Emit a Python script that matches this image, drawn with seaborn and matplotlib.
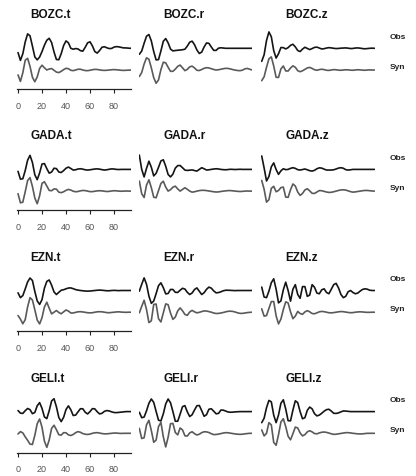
import numpy as np
import matplotlib
matplotlib.use("Agg")
import matplotlib.pyplot as plt
import matplotlib.transforms as mtransforms
import seaborn as sns

# time axis (s), one sample every 2 s
time = np.arange(0, 95, 2)

stations = ["BOZC", "GADA", "EZN", "GELI"]
comps = ["t", "r", "z"]
ticks = [0, 20, 40, 60, 80]

# normalised waveforms (obs / syn)
bozc_t_obs = [-0.33, -0.93, -0.42, 0.49, 1.11, 0.96, 0.17, -0.66, -0.89, -0.67, -0.25, 0.24,
              0.62, 0.77, 0.44, -0.28, -0.86, -0.88, -0.41, 0.21, 0.57, 0.42, 0.00, -0.07,
              -0.02, -0.05, -0.18, -0.22, 0.08, 0.42, 0.50, 0.18, -0.25, -0.37, -0.17, 0.08,
              0.12, 0.04, -0.02, -0.01, 0.09, 0.13, 0.11, 0.07, 0.03, 0.03, 0.01, 0.00]
bozc_t_syn = [-0.38, -0.88, -0.21, 0.75, 0.90, 0.28, -0.56, -0.90, -0.53, 0.12, 0.37, 0.17,
              0.00, 0.08, 0.11, -0.02, -0.16, -0.20, -0.10, 0.03, 0.13, 0.10, -0.02, -0.05,
              0.00, 0.06, 0.06, 0.00, -0.04, -0.05, -0.02, 0.02, 0.05, 0.04, 0.01, -0.02,
              -0.03, -0.02, 0.00, 0.02, 0.03, 0.02, 0.00, -0.02, -0.03, -0.02, -0.01, 0.00]
bozc_r_obs = [-0.46, -0.21, 0.39, 0.93, 1.06, 0.57, -0.25, -0.89, -0.87, -0.20, 0.54, 0.75,
              0.42, -0.06, -0.20, -0.17, -0.15, -0.13, -0.11, -0.07, 0.17, 0.47, 0.55, 0.28,
              -0.13, -0.40, -0.29, 0.10, 0.41, 0.38, 0.10, -0.16, -0.16, 0.01, 0.04, 0.02,
              0.00, 0.00, 0.00, 0.00, 0.00, 0.00, 0.00, 0.00, 0.00, 0.00, 0.00, 0.00]
bozc_r_syn = [-0.50, -0.19, 0.46, 0.94, 0.83, 0.17, -0.59, -1.02, -0.76, 0.03, 0.60, 0.55,
              0.21, -0.10, -0.10, 0.07, 0.28, 0.38, 0.17, -0.05, 0.05, 0.24, 0.30, 0.16,
              -0.02, -0.04, 0.04, 0.13, 0.18, 0.16, 0.10, 0.04, 0.00, 0.02, 0.06, 0.10,
              0.13, 0.12, 0.08, 0.03, -0.01, -0.04, -0.05, -0.01, 0.09, 0.12, 0.06, 0.00]
bozc_z_obs = [-1.00, -0.50, 0.60, 1.26, 0.89, -0.18, -0.75, -0.42, 0.06, 0.05, -0.05, 0.05,
              0.23, 0.31, 0.11, -0.17, -0.25, -0.06, 0.08, -0.01, -0.10, -0.02, 0.07, 0.09,
              0.02, -0.05, -0.03, 0.02, 0.05, 0.03, 0.00, -0.02, -0.01, 0.01, 0.02, 0.03,
              0.01, -0.02, -0.01, 0.02, 0.03, 0.01, -0.02, -0.04, -0.02, 0.00, 0.01, 0.00]
bozc_z_syn = [-0.82, -0.52, 0.21, 0.86, 1.01, 0.31, -0.56, -0.57, 0.08, 0.31, -0.07, -0.08,
              0.15, 0.32, 0.21, -0.05, -0.13, -0.06, 0.05, 0.16, 0.20, 0.12, 0.02, -0.02,
              0.03, 0.06, 0.03, -0.02, -0.03, 0.00, 0.03, 0.02, -0.01, -0.02, 0.00, 0.02,
              0.01, -0.01, -0.02, 0.00, 0.02, 0.01, -0.01, -0.02, 0.00, 0.01, 0.00, 0.00]

gada_t_obs = [-0.15, -0.75, -0.72, -0.09, 0.71, 1.08, 0.53, -0.41, -0.79, -0.27, 0.41, 0.45,
              0.06, -0.29, -0.20, 0.09, 0.06, -0.20, -0.24, -0.09, 0.09, 0.18, 0.07, -0.05,
              -0.03, 0.03, 0.05, 0.02, -0.03, -0.05, -0.03, 0.00, 0.03, 0.04, 0.02, -0.02,
              -0.05, -0.03, 0.01, 0.04, 0.03, 0.00, -0.01, 0.00, 0.00, 0.00, 0.00, 0.00]
gada_t_syn = [-0.20, -0.90, -0.85, -0.05, 0.81, 1.04, 0.36, -0.53, -0.97, -0.36, 0.60, 0.72,
              0.39, 0.05, 0.03, 0.17, 0.15, -0.08, -0.12, -0.05, 0.06, 0.13, 0.08, -0.01,
              -0.05, -0.03, 0.02, 0.05, 0.04, 0.00, -0.04, -0.04, -0.01, 0.02, 0.03, 0.02,
              -0.01, -0.03, -0.02, 0.01, 0.03, 0.02, 0.00, -0.01, 0.00, 0.01, 0.00, 0.00]
gada_r_obs = [1.10, 0.00, -0.58, 0.08, 0.63, 0.17, -0.50, -0.30, 0.16, 0.65, 0.74, 0.24,
              -0.39, -0.58, -0.36, 0.10, 0.29, 0.30, 0.13, -0.05, -0.08, -0.06, -0.04, -0.09,
              -0.13, 0.00, 0.13, 0.05, -0.05, -0.03, 0.00, 0.03, 0.05, 0.03, 0.00, -0.02,
              -0.03, -0.01, 0.01, 0.00, -0.01, 0.00, 0.01, 0.00, 0.00, 0.00, 0.00, 0.00]
gada_r_syn = [0.77, -0.20, -0.49, 0.46, 0.87, 0.27, -0.47, -0.51, 0.04, 0.59, 0.76, 0.31,
              0.00, 0.11, 0.30, 0.38, 0.17, 0.00, 0.13, 0.26, 0.14, 0.00, -0.08, -0.05,
              0.00, 0.04, 0.06, 0.06, 0.04, 0.01, -0.02, -0.05, -0.07, -0.06, -0.03, 0.00,
              0.02, 0.04, 0.04, 0.02, 0.00, -0.02, -0.03, -0.02, 0.00, 0.01, 0.00, 0.00]
gada_z_obs = [1.03, 0.11, -0.89, -0.55, 0.20, 0.50, -0.01, -0.38, -0.11, 0.05, -0.02, 0.00,
              0.08, 0.13, 0.08, -0.02, -0.05, -0.01, 0.03, -0.03, -0.10, -0.13, -0.07, 0.05,
              0.12, 0.10, 0.02, -0.05, -0.05, -0.05, -0.03, 0.03, 0.10, 0.13, 0.09, -0.02,
              -0.05, -0.03, 0.00, 0.00, 0.00, 0.00, 0.00, 0.00, 0.00, 0.00, 0.00, 0.00]
gada_z_syn = [0.82, 0.14, -0.85, -0.66, 0.21, 0.37, -0.05, 0.05, 0.27, 0.31, -0.46, -0.48,
              0.10, 0.55, 0.39, -0.07, -0.33, -0.18, 0.09, 0.18, 0.02, -0.17, -0.18, -0.07,
              0.04, 0.03, -0.02, -0.07, -0.10, -0.09, -0.05, 0.00, 0.05, 0.09, 0.10, 0.08,
              0.02, -0.04, -0.08, -0.06, -0.03, 0.00, 0.03, 0.05, 0.05, 0.03, 0.01, 0.00]

ezn_t_obs = [-0.18, -0.55, -0.39, 0.12, 0.66, 0.96, 0.77, -0.07, -0.80, -1.07, -0.70, 0.18,
             0.70, 0.81, 0.41, -0.11, -0.31, -0.14, 0.02, 0.06, 0.13, 0.19, 0.20, 0.14,
             0.07, 0.03, 0.00, -0.02, -0.04, -0.05, -0.04, -0.02, 0.00, 0.02, 0.03, 0.02,
             0.00, -0.02, -0.02, 0.00, 0.01, 0.00, -0.01, 0.00, 0.00, 0.00, 0.00, 0.00]
ezn_t_syn = [-0.26, -0.53, -0.89, -0.57, 0.41, 1.12, 0.94, 0.19, -0.60, -0.90, -0.42, 0.40,
             0.77, 0.30, -0.13, 0.00, 0.13, -0.02, -0.12, 0.03, 0.17, 0.09, -0.06, -0.06,
             -0.01, 0.03, 0.04, 0.02, -0.01, -0.04, -0.05, -0.04, 0.00, 0.03, 0.04, 0.03,
             0.00, -0.03, -0.04, -0.02, 0.00, 0.02, 0.03, 0.01, 0.00, -0.01, 0.00, 0.00]
ezn_r_obs = [-0.05, 0.48, 0.97, 0.48, -0.43, -0.99, -0.81, -0.24, 0.37, 0.59, 0.22, -0.26,
             -0.23, 0.08, 0.08, -0.14, -0.15, 0.02, 0.17, 0.11, -0.14, -0.31, -0.19, 0.08,
             0.20, -0.06, -0.31, -0.17, 0.09, 0.26, 0.18, -0.03, -0.18, -0.16, -0.10, -0.02,
             0.02, 0.02, 0.01, 0.00, -0.01, 0.00, 0.00, 0.00, 0.00, 0.00, 0.00, 0.00]
ezn_r_syn = [-0.05, 0.45, 0.92, 0.21, -0.80, -0.66, 0.60, 0.63, -0.50, -0.75, -0.05, 0.64,
             0.58, -0.07, -0.55, -0.37, 0.10, 0.33, 0.11, -0.17, -0.24, 0.02, 0.14, 0.03,
             -0.05, -0.01, 0.05, 0.10, 0.09, 0.05, 0.00, -0.06, -0.10, -0.09, -0.06, -0.02,
             0.03, 0.07, 0.08, 0.06, 0.01, -0.05, -0.09, -0.09, -0.06, -0.03, -0.01, 0.00]
ezn_z_obs = [0.26, -0.50, -0.55, -0.05, 0.60, 0.90, 0.10, -0.95, -0.80, 0.05, 0.64, 0.00,
             -0.82, 0.10, 0.45, -0.30, -0.60, 0.30, 0.30, -0.45, -0.35, 0.45, 0.25, -0.20,
             -0.25, 0.05, 0.13, -0.15, -0.25, 0.10, 0.45, 0.55, 0.20, -0.30, -0.55, -0.45,
             -0.10, 0.00, -0.15, -0.25, -0.20, -0.05, 0.08, 0.13, 0.10, 0.02, 0.00, 0.00]
ezn_z_syn = [0.26, -0.30, -0.26, 0.29, 0.82, 0.82, -0.28, -0.90, -0.53, 0.20, 0.80, 0.71,
             0.03, -0.50, -0.30, 0.06, -0.10, -0.16, 0.02, 0.12, 0.03, -0.10, -0.12, -0.05,
             0.03, 0.06, 0.04, 0.00, -0.04, -0.05, -0.03, 0.00, 0.03, 0.05, 0.04, 0.01,
             -0.02, -0.04, -0.03, 0.00, 0.02, 0.03, 0.02, 0.00, -0.01, -0.01, 0.00, 0.00]

geli_t_obs = [0.08, -0.12, -0.14, 0.07, 0.24, 0.15, -0.16, -0.07, 0.45, 0.69, 0.25, -0.41,
              -0.54, 0.07, 0.82, 0.99, 0.37, -0.45, -0.77, -0.44, 0.16, 0.44, 0.14, -0.30,
              -0.27, -0.02, 0.22, 0.22, -0.05, -0.18, 0.00, 0.23, 0.21, -0.01, -0.18, -0.13,
              0.02, 0.08, 0.05, -0.02, -0.07, -0.08, -0.06, -0.04, -0.02, 0.00, 0.00, 0.00]
geli_t_syn = [-0.05, 0.13, 0.03, -0.27, -0.54, -0.83, -0.86, -0.16, 0.74, 1.10, 0.47, -0.60,
              -1.08, -0.51, 0.38, 0.62, 0.28, -0.11, -0.14, 0.05, 0.04, -0.12, -0.17, -0.09,
              0.05, 0.13, 0.08, -0.02, -0.07, -0.09, -0.06, 0.00, 0.04, 0.05, 0.02, -0.02,
              -0.04, -0.04, -0.02, 0.00, 0.02, 0.02, 0.00, -0.01, 0.00, 0.00, 0.00, 0.00]
geli_r_obs = [-0.05, -0.47, -0.42, 0.06, 0.64, 0.97, 0.71, 0.01, -0.66, -0.72, -0.17, 0.59,
              0.97, 0.68, 0.00, -0.74, -0.74, -0.20, 0.38, 0.46, -0.02, -0.38, -0.24, 0.12,
              0.45, 0.47, 0.07, -0.36, -0.24, 0.18, 0.22, 0.03, -0.17, -0.14, 0.12, 0.11,
              0.04, -0.03, -0.05, -0.04, -0.02, -0.01, 0.00, 0.00, 0.00, 0.00, 0.00, 0.00]
geli_r_syn = [0.38, -0.40, -0.34, 0.65, 1.00, 0.22, -0.69, -0.52, 0.52, 0.84, -0.27, -1.05,
              -0.30, 0.74, 0.76, 0.06, -0.12, 0.41, 0.26, -0.19, -0.21, 0.03, 0.12, -0.03,
              -0.13, -0.07, 0.05, 0.12, 0.11, 0.06, -0.03, -0.10, -0.09, -0.06, -0.02, 0.02,
              0.05, 0.04, 0.01, -0.02, -0.05, -0.07, -0.08, -0.07, -0.04, -0.02, 0.00, 0.00]
geli_z_obs = [-0.85, -0.51, 0.30, 0.86, 0.75, -0.27, -0.85, -0.26, 0.64, 0.91, 0.20, -0.70,
              -0.71, 0.12, 0.83, 0.69, 0.00, -0.55, -0.47, 0.10, 0.35, 0.21, -0.16, -0.33,
              -0.27, -0.13, 0.03, 0.15, 0.18, 0.04, -0.13, -0.14, -0.10, -0.02, 0.05, 0.04,
              0.02, 0.00, 0.00, 0.00, 0.00, 0.00, 0.00, 0.00, 0.00, 0.00, 0.00, 0.00]
geli_z_syn = [0.26, -0.20, 0.00, 0.82, 0.65, -0.70, -0.92, -0.11, 0.87, 1.12, 0.52, -0.23,
              -0.50, -0.03, 0.48, 0.41, 0.03, -0.20, -0.10, 0.11, 0.20, 0.11, -0.02, -0.04,
              0.03, 0.08, 0.10, 0.07, 0.02, -0.04, -0.08, -0.07, -0.04, -0.01, 0.02, 0.05,
              0.05, 0.03, 0.00, -0.02, -0.04, -0.05, -0.04, -0.02, 0.00, 0.00, 0.00, 0.00]

traces = {
    ("BOZC", "t"): (bozc_t_obs, bozc_t_syn), ("BOZC", "r"): (bozc_r_obs, bozc_r_syn),
    ("BOZC", "z"): (bozc_z_obs, bozc_z_syn),
    ("GADA", "t"): (gada_t_obs, gada_t_syn), ("GADA", "r"): (gada_r_obs, gada_r_syn),
    ("GADA", "z"): (gada_z_obs, gada_z_syn),
    ("EZN", "t"): (ezn_t_obs, ezn_t_syn), ("EZN", "r"): (ezn_r_obs, ezn_r_syn),
    ("EZN", "z"): (ezn_z_obs, ezn_z_syn),
    ("GELI", "t"): (geli_t_obs, geli_t_syn), ("GELI", "r"): (geli_r_obs, geli_r_syn),
    ("GELI", "z"): (geli_z_obs, geli_z_syn),
}

sns.set_style("white")
plt.rcParams['font.family'] = ['Liberation Sans', 'DejaVu Sans']

W, H = 416, 476
fig = plt.figure(figsize=(W / 100, H / 100), dpi=100)

syn_shift = -1.67
col_left = [17.3, 138.6, 261.0]
title_x = [0.112, 0.218, 0.212]
ax_w = 113.5
px_unit = 13.0
y_lo, y_hi = -3.15, 1.5

for i, st in enumerate(stations):
    base = 48.3 + 121.1 * i
    top = base - y_hi * px_unit
    bot = base - y_lo * px_unit
    for j, c in enumerate(comps):
        ax = fig.add_axes([col_left[j] / W, 1 - bot / H, ax_w / W, (bot - top) / H])
        obs, syn = traces[(st, c)]
        sns.lineplot(x=time, y=np.array(obs), ax=ax, color="#151515", linewidth=1.2,
                     errorbar=None)
        sns.lineplot(x=time, y=np.array(syn) + syn_shift, ax=ax, color="#5a5a5a",
                     linewidth=1.2, errorbar=None)
        ax.set_xlim(-0.6, 94)
        ax.set_ylim(y_lo, y_hi)
        ax.set_xlabel("")
        ax.set_ylabel("")
        ax.set_yticks([])
        for s in ["top", "right", "left"]:
            ax.spines[s].set_visible(False)
        if j == 0:
            ax.spines["bottom"].set_color("#222222")
            ax.spines["bottom"].set_linewidth(0.9)
            ax.set_xticks(ticks)
            ax.tick_params(axis="x", direction="out", length=3, width=0.8, pad=6,
                           labelsize=6.5, labelcolor="#555555", color="#222222")
            ax.xaxis.set_ticks_position("bottom")
        else:
            ax.spines["bottom"].set_visible(False)
            ax.set_xticks([])
        ax.text(title_x[j], 1.223, f"{st}.{c}", transform=ax.transAxes, ha="left",
                va="center", fontsize=8.5, fontweight="bold", color="#111111")
        if j == 2:
            tr = mtransforms.blended_transform_factory(ax.transAxes, ax.transData)
            ax.text(1.137, 0.85, "Obs", transform=tr, ha="left", va="center",
                    fontsize=6, fontweight="bold", color="#222222")
            ax.text(1.137, -1.48, "Syn", transform=tr, ha="left", va="center",
                    fontsize=6, fontweight="bold", color="#222222")

fig.savefig("out.png", dpi=100)
